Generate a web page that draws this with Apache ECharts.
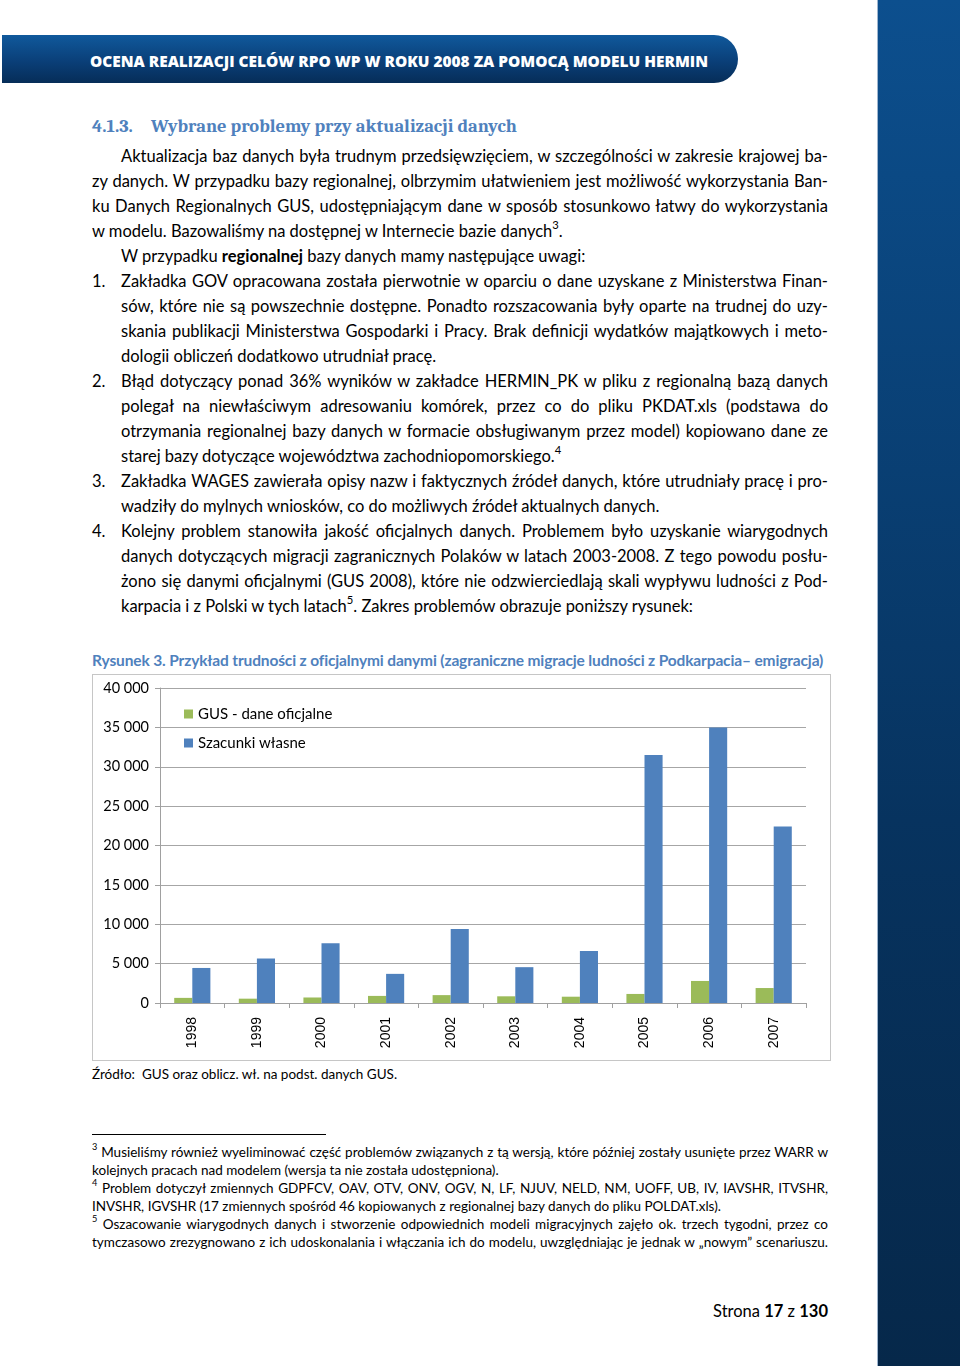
<!DOCTYPE html>
<html lang="pl">
<head>
<meta charset="utf-8">
<script src="https://cdn.jsdelivr.net/npm/echarts@6/dist/echarts.min.js"></script>
<style>
  html, body { margin: 0; padding: 0; background: #fff; }
  body { width: 960px; height: 1366px; position: relative; overflow: hidden; font-family: Lato, "Open Sans", sans-serif; color: #000; }
  .sidebar { position: absolute; left: 877px; top: 0; width: 83px; height: 1366px;
    background: linear-gradient(#0c4f8e, #07335f 60%, #06284a); border-left: 1px solid #9fb6cf; }
  .banner { position: absolute; left: 2px; top: 35px; width: 736px; height: 48px;
    border-radius: 0 26px 26px 0; background: linear-gradient(#10599c, #0a3f78 55%, #062d58); }
  .banner-text { position: absolute; left: 90px; top: 51px; height: 20px; line-height: 20px; color: #fff; font-family: "Open Sans", Lato, sans-serif;
    font-weight: 800; font-size: 16px; white-space: nowrap; transform-origin: left center; }
  .h { position: absolute; left: 92px; top: 115px; font-family: Cambria, "Liberation Serif", "DejaVu Serif", serif; font-weight: 700;
    font-size: 18.5px; color: #4f81bd; white-space: nowrap; }
  .ln { position: absolute; height: 25px; line-height: 25px; font-size: 16.5px; white-space: nowrap; }
  .num { position: absolute; left: 92px; height: 25px; line-height: 25px; font-size: 16.5px; }
  .fn { position: absolute; height: 18px; line-height: 18px; font-size: 13.5px; white-space: nowrap; }
  sup { font-size: 0.68em; vertical-align: baseline; line-height: 0; position: relative; top: -0.75em; }
  .caption { position: absolute; left: 92px; top: 650px; height: 20px; line-height: 20px; font-size: 15.5px; font-weight: 700; color: #4f81bd; white-space: nowrap; }
  .chartbox { position: absolute; left: 92px; top: 674px; width: 737px; height: 385px; border: 1px solid #c6c6c6; }
  #chart { position: absolute; left: 0; top: 0; width: 737px; height: 385px; }
  .src { position: absolute; left: 92px; top: 1065px; font-size: 13.5px; line-height: 18px; white-space: nowrap; }
  .sep { position: absolute; left: 92px; top: 1134px; width: 234px; height: 1px; background: #000; }
  .page { position: absolute; right: 132px; top: 1299px; font-size: 16.5px; line-height: 25px; white-space: nowrap; }
</style>
</head>
<body>
<div class="sidebar"></div>
<div class="banner"></div>
<div class="banner-text" id="bannerText">OCENA REALIZACJI CELÓW RPO WP W ROKU 2008 ZA POMOCĄ MODELU HERMIN</div>

<div class="h">4.1.3.<span style="display:inline-block;width:18px"></span>Wybrane problemy przy aktualizacji danych</div>

<div id="body"></div>

<div class="caption" id="caption">Rysunek 3. Przykład trudności z oficjalnymi danymi (zagraniczne migracje ludności z Podkarpacia– emigracja)</div>

<div class="chartbox"><div id="chart"></div></div>

<div class="src">Źródło:&nbsp; GUS oraz oblicz. wł. na podst. danych GUS.</div>
<div class="sep"></div>
<div id="footnotes"></div>

<div class="page">Strona <b>17</b> z <b>130</b></div>

<script>
// ---------------- chart data ----------------
const years = ['1998', '1999', '2000', '2001', '2002', '2003', '2004', '2005', '2006', '2007'];
const gusValues = [650, 550, 700, 900, 1000, 850, 800, 1150, 2800, 1900];
const ownEstimates = [4450, 5650, 7600, 3700, 9400, 4550, 6600, 31500, 35000, 22400];
const seriesNames = ['GUS - dane oficjalne', 'Szacunki własne'];
const yTicks = [0, 5000, 10000, 15000, 20000, 25000, 30000, 35000, 40000];

// ---------------- page text ----------------
// [x, centerY, width, justify, html, listNumber]
const bodyLines = [
  [121, 155, 707, true, 'Aktualizacja baz danych była trudnym przedsięwzięciem, w szczególności w zakresie krajowej ba-'],
  [92, 180, 736, true, 'zy danych. W przypadku bazy regionalnej, olbrzymim ułatwieniem jest możliwość wykorzystania Ban-'],
  [92, 205, 736, true, 'ku Danych Regionalnych GUS, udostępniającym dane w sposób stosunkowo łatwy do wykorzystania'],
  [92, 230, 736, false, 'w modelu. Bazowaliśmy na dostępnej w Internecie bazie danych<sup>3</sup>.'],
  [121, 255, 707, false, 'W przypadku <b>regionalnej</b> bazy danych mamy następujące uwagi:'],
  [121, 280, 707, true, 'Zakładka GOV opracowana została pierwotnie w oparciu o dane uzyskane z Ministerstwa Finan-', '1.'],
  [121, 305, 707, true, 'sów, które nie są powszechnie dostępne. Ponadto rozszacowania były oparte na trudnej do uzy-'],
  [121, 330, 707, true, 'skania publikacji Ministerstwa Gospodarki i Pracy. Brak definicji wydatków majątkowych i meto-'],
  [121, 355, 707, false, 'dologii obliczeń dodatkowo utrudniał pracę.'],
  [121, 380, 707, true, 'Błąd dotyczący ponad 36% wyników w zakładce HERMIN_PK w pliku z regionalną bazą danych', '2.'],
  [121, 405, 707, true, 'polegał na niewłaściwym adresowaniu komórek, przez co do pliku PKDAT.xls (podstawa do'],
  [121, 430, 707, true, 'otrzymania regionalnej bazy danych w formacie obsługiwanym przez model) kopiowano dane ze'],
  [121, 455, 707, false, 'starej bazy dotyczące województwa zachodniopomorskiego.<sup>4</sup>'],
  [121, 480, 707, true, 'Zakładka WAGES zawierała opisy nazw i faktycznych źródeł danych, które utrudniały pracę i pro-', '3.'],
  [121, 505, 707, false, 'wadziły do mylnych wniosków, co do możliwych źródeł aktualnych danych.'],
  [121, 530, 707, true, 'Kolejny problem stanowiła jakość oficjalnych danych. Problemem było uzyskanie wiarygodnych', '4.'],
  [121, 555, 707, true, 'danych dotyczących migracji zagranicznych Polaków w latach 2003-2008. Z tego powodu posłu-'],
  [121, 580, 707, true, 'żono się danymi oficjalnymi (GUS 2008), które nie odzwierciedlają skali wypływu ludności z Pod-'],
  [121, 605, 707, false, 'karpacia i z Polski w tych latach<sup>5</sup>. Zakres problemów obrazuje poniższy rysunek:']
];
const footLines = [
  [92, 1152, 736, true, '<sup>3</sup> Musieliśmy również wyeliminować część problemów związanych z tą wersją, które później zostały usunięte przez WARR w'],
  [92, 1170, 736, false, 'kolejnych pracach nad modelem (wersja ta nie została udostępniona).'],
  [92, 1188, 736, true, '<sup>4</sup> Problem dotyczył zmiennych GDPFCV, OAV, OTV, ONV, OGV, N, LF, NJUV, NELD, NM, UOFF, UB, IV, IAVSHR, ITVSHR,'],
  [92, 1206, 736, false, 'INVSHR, IGVSHR (17 zmiennych spośród 46 kopiowanych z regionalnej bazy danych do pliku POLDAT.xls).'],
  [92, 1224, 736, true, '<sup>5</sup> Oszacowanie wiarygodnych danych i stworzenie odpowiednich modeli migracyjnych zajęło ok. trzech tygodni, przez co'],
  [92, 1242, 736, true, 'tymczasowo zrezygnowano z ich udoskonalania i włączania ich do modelu, uwzględniając je jednak w „nowym” scenariuszu.']
];

function placeLines(list, container, cls, half) {
  list.forEach(([x, cy, w, just, html, num]) => {
    const d = document.createElement('div');
    d.className = cls;
    d.style.left = x + 'px';
    d.style.top = (cy - half) + 'px';
    d.innerHTML = html;
    container.appendChild(d);
    const natural = d.getBoundingClientRect().width;
    if (natural > w) {
      const chars = d.textContent.length;
      d.style.letterSpacing = (-(natural - w) / chars).toFixed(3) + 'px';
    } else if (just) {
      const spaces = (d.textContent.match(/ /g) || []).length;
      if (spaces) d.style.wordSpacing = ((w - natural) / spaces).toFixed(3) + 'px';
    }
    if (num) {
      const n = document.createElement('div');
      n.className = 'num';
      n.style.top = (cy - half) + 'px';
      n.textContent = num;
      container.appendChild(n);
    }
  });
}
placeLines(bodyLines, document.getElementById('body'), 'ln', 11);
placeLines(footLines, document.getElementById('footnotes'), 'fn', 9);

function fitWidth(el, target) {
  const w = el.getBoundingClientRect().width;
  el.style.transform = 'scaleX(' + (target / w).toFixed(4) + ')';
}
fitWidth(document.getElementById('bannerText'), 618);
(function () {
  const c = document.getElementById('caption');
  const w = c.getBoundingClientRect().width;
  if (w > 731) c.style.letterSpacing = (-(w - 731) / c.textContent.length).toFixed(3) + 'px';
  else c.style.wordSpacing = ((731 - w) / (c.textContent.match(/ /g) || []).length).toFixed(3) + 'px';
})();

// ---------------- chart ----------------
const fmt = v => String(v).replace(/\B(?=(\d{3})+(?!\d))/g, ' ');
const chart = echarts.init(document.getElementById('chart'), null, { renderer: 'canvas' });
chart.setOption({
  animation: false,
  textStyle: { fontFamily: 'Lato, sans-serif' },
  grid: { left: 67, right: 24, top: 13, bottom: 57, containLabel: false },
  legend: {
    orient: 'vertical', left: 86, top: 26,
    itemWidth: 9, itemHeight: 9, itemGap: 13,
    icon: 'rect',
    data: seriesNames,
    textStyle: { fontSize: 15, color: '#000', lineHeight: 16, fontFamily: 'Lato, sans-serif' }
  },
  xAxis: {
    type: 'category',
    data: years,
    axisLine: { lineStyle: { color: '#a0a0a0', width: 1 } },
    axisTick: { show: true, length: 5, lineStyle: { color: '#a0a0a0' } },
    axisLabel: { rotate: 90, margin: 14, fontSize: 14, color: '#000', fontFamily: '"Liberation Sans", Arial, sans-serif' }
  },
  yAxis: {
    type: 'value',
    min: yTicks[0], max: yTicks[yTicks.length - 1], interval: yTicks[1] - yTicks[0],
    axisLine: { show: true, lineStyle: { color: '#a0a0a0', width: 1 } },
    axisTick: { show: true, length: 5, lineStyle: { color: '#a0a0a0' } },
    splitLine: { lineStyle: { color: '#a6a6a6', width: 1 } },
    axisLabel: { margin: 11, fontSize: 14.5, color: '#000', formatter: fmt }
  },
  series: [
    { name: seriesNames[0], type: 'bar', data: gusValues, itemStyle: { color: '#9bbb59' }, barGap: '0%', barCategoryGap: '44%' },
    { name: seriesNames[1], type: 'bar', data: ownEstimates, itemStyle: { color: '#4f81bd' }, barGap: '0%', barCategoryGap: '44%' }
  ]
});
</script>
</body>
</html>
